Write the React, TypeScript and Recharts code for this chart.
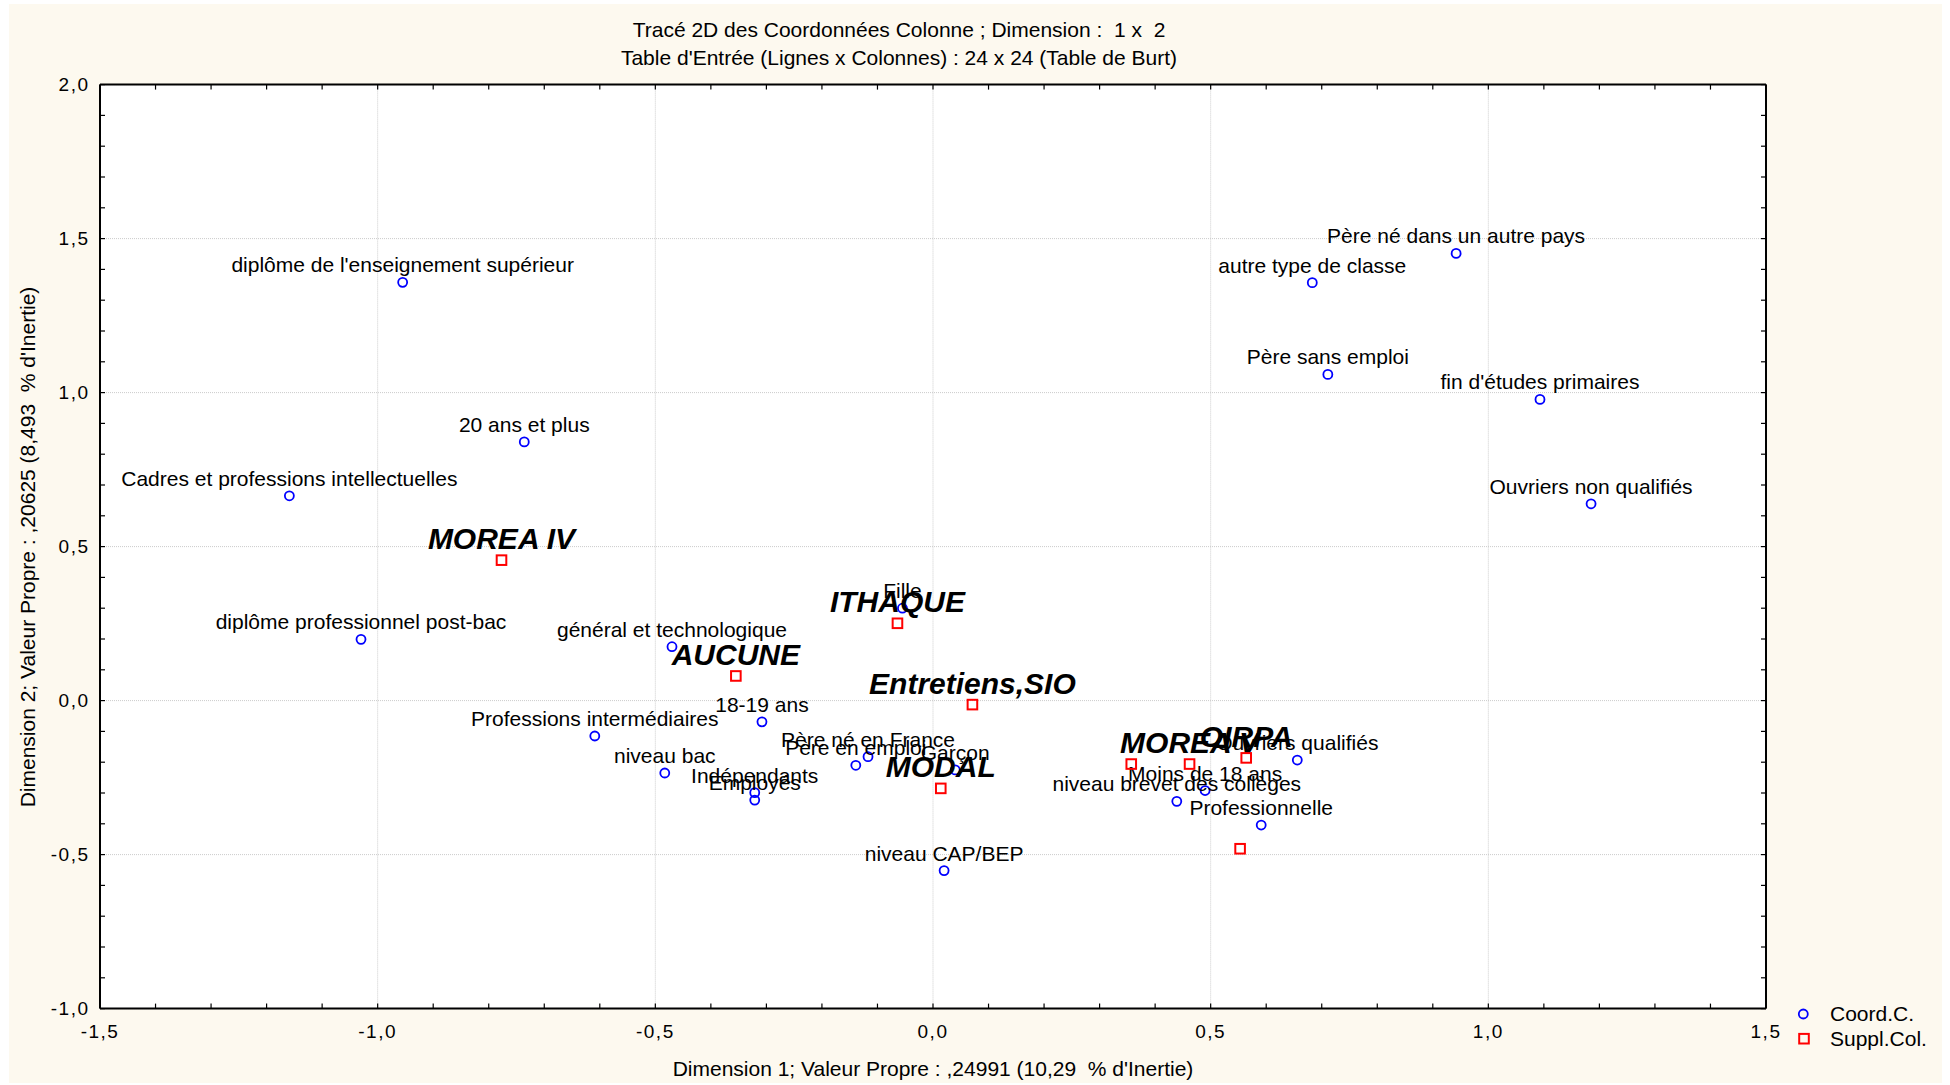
import { ScatterChart, Scatter, XAxis, YAxis, CartesianGrid } from "recharts";

// Coord.C. (colonnes actives)
const coordNames = [
  "diplôme de l'enseignement supérieur",
  "20 ans et plus",
  "Cadres et professions intellectuelles",
  "diplôme professionnel post-bac",
  "général et technologique",
  "18-19 ans",
  "Professions intermédiaires",
  "niveau bac",
  "Indépendants",
  "Employés",
  "Père né en France",
  "Père en emploi",
  "Garçon",
  "Fille",
  "niveau CAP/BEP",
  "Moins de 18 ans",
  "niveau brevet des collèges",
  "Ouvriers qualifiés",
  "Professionnelle",
  "Père né dans un autre pays",
  "autre type de classe",
  "Père sans emploi",
  "fin d'études primaires",
  "Ouvriers non qualifiés",
];
const coordX = [
  -0.955, -0.736, -1.159, -1.03, -0.47, -0.308, -0.609, -0.483, -0.321, -0.321,
  -0.117, -0.139, 0.04, -0.055, 0.02, 0.49, 0.439, 0.656, 0.591, 0.942, 0.683,
  0.711, 1.093, 1.185,
];
const coordY = [
  1.358, 0.84, 0.665, 0.199, 0.175, -0.069, -0.115, -0.235, -0.299, -0.323,
  -0.182, -0.21, -0.225, 0.3, -0.552, -0.292, -0.327, -0.193, -0.404, 1.452,
  1.357, 1.059, 0.978, 0.639,
];

// Suppl.Col. (colonnes supplémentaires)
const supplNames = [
  "MOREA IV",
  "ITHAQUE",
  "AUCUNE",
  "Entretiens,SIO",
  "MODAL",
  "",
  "MOREA V",
  "OIRPA",
  "",
];
const supplX = [-0.777, -0.064, -0.355, 0.071, 0.014, 0.357, 0.462, 0.564, 0.553];
const supplY = [0.456, 0.251, 0.08, -0.013, -0.285, -0.206, -0.206, -0.186, -0.481];

const xMajorTicks = [-1.5, -1.0, -0.5, 0, 0.5, 1.0, 1.5];
const yMajorTicks = [-1.0, -0.5, 0, 0.5, 1.0, 1.5, 2.0];
const xMinorTicks = [
  -1.5, -1.4, -1.3, -1.2, -1.1, -1.0, -0.9, -0.8, -0.7, -0.6, -0.5, -0.4, -0.3,
  -0.2, -0.1, 0, 0.1, 0.2, 0.3, 0.4, 0.5, 0.6, 0.7, 0.8, 0.9, 1.0, 1.1, 1.2, 1.3,
  1.4, 1.5,
];
const yMinorTicks = [
  -1.0, -0.9, -0.8, -0.7, -0.6, -0.5, -0.4, -0.3, -0.2, -0.1, 0, 0.1, 0.2, 0.3,
  0.4, 0.5, 0.6, 0.7, 0.8, 0.9, 1.0, 1.1, 1.2, 1.3, 1.4, 1.5, 1.6, 1.7, 1.8, 1.9,
  2.0,
];

const coordData = coordNames.map((name, i) => ({ name, x: coordX[i], y: coordY[i] }));
const supplData = supplNames.map((name, i) => ({ name, x: supplX[i], y: supplY[i] }));

const FONT = "'Liberation Sans', Arial, sans-serif";
const CREAM = "#fdf9ef";

const isMajor = (v: number) => Math.abs(v * 2 - Math.round(v * 2)) < 1e-6;
const fmtTick = (v: number) => (isMajor(v) ? v.toFixed(1).replace(".", ",") : "");
const blank = () => "";

function CoordMark(props: any) {
  const { cx, cy, payload } = props;
  return (
    <g>
      <circle cx={cx} cy={cy} r={4.5} fill="none" stroke="#0000ff" strokeWidth={1.8} />
      <text x={cx} y={cy - 10} textAnchor="middle" fontSize={21} fill="#000" fontFamily={FONT}>
        {payload.name}
      </text>
    </g>
  );
}

function SupplMark(props: any) {
  const { cx, cy, payload } = props;
  return (
    <g>
      <rect x={cx - 4.8} y={cy - 4.8} width={9.6} height={9.6} fill="none" stroke="#ff0000" strokeWidth={2} />
      {payload.name && (
        <text
          x={cx}
          y={cy - 11}
          textAnchor="middle"
          fontSize={30}
          fontWeight="bold"
          fontStyle="italic"
          fill="#000"
          fontFamily={FONT}
        >
          {payload.name}
        </text>
      )}
    </g>
  );
}

// x tick labels drawn by hand so they sit under the inward ticks
function XTick(props: any) {
  const { x, y, payload } = props;
  const label = fmtTick(payload.value);
  if (!label) return <g />;
  return (
    <text x={x} y={y} dy="0.71em" textAnchor="middle" fontSize={19} letterSpacing={1.5} fill="#000" fontFamily={FONT}>
      {label}
    </text>
  );
}

const tickStyle = { fontSize: 19, fill: "#000", letterSpacing: 1.5, fontFamily: FONT };
const border = { stroke: "#000", strokeWidth: 2 };
const tickLn = { stroke: "#000", strokeWidth: 1.2 };

export default function App() {
  return (
    <div
      style={{
        position: "absolute",
        left: 9,
        top: 4,
        width: 1933,
        height: 1079,
        background: CREAM,
        fontFamily: FONT,
        color: "#000",
      }}
    >
      <ScatterChart width={1933} height={1079} margin={{ top: 0, right: 0, bottom: 0, left: 0 }}>
        <XAxis xAxisId="x" dataKey="x" type="number" domain={[-1.5, 1.5]} ticks={xMajorTicks} allowDataOverflow hide height={0} />
        <YAxis yAxisId="y" dataKey="y" type="number" domain={[-1, 2]} ticks={yMajorTicks} allowDataOverflow hide width={0} />
        <XAxis
          xAxisId="xb"
          dataKey="x"
          orientation="bottom"
          type="number"
          domain={[-1.5, 1.5]}
          ticks={xMinorTicks}
          interval={0}
          allowDataOverflow
          height={74.4}
          tickSize={-5}
          tickMargin={21.4}
          tick={XTick}
          axisLine={border}
          tickLine={tickLn}
        />
        <XAxis
          xAxisId="xt"
          dataKey="x"
          orientation="top"
          type="number"
          domain={[-1.5, 1.5]}
          ticks={xMinorTicks}
          interval={0}
          allowDataOverflow
          height={80.6}
          tickSize={-5}
          tickFormatter={blank}
          axisLine={border}
          tickLine={tickLn}
        />
        <YAxis
          yAxisId="yl"
          dataKey="y"
          orientation="left"
          type="number"
          domain={[-1, 2]}
          ticks={yMinorTicks}
          interval={0}
          allowDataOverflow
          width={91}
          tickSize={-5}
          tickMargin={15.5}
          tickFormatter={fmtTick}
          tick={tickStyle}
          axisLine={border}
          tickLine={tickLn}
        />
        <YAxis
          yAxisId="yr"
          dataKey="y"
          orientation="right"
          type="number"
          domain={[-1, 2]}
          ticks={yMinorTicks}
          interval={0}
          allowDataOverflow
          width={176}
          tickSize={-5}
          tickFormatter={blank}
          axisLine={border}
          tickLine={tickLn}
        />
        <CartesianGrid xAxisId="x" yAxisId="y" stroke="#cccccc" strokeDasharray="1 1" fill="#ffffff" />
        <Scatter
          name="Coord.C."
          data={coordData}
          xAxisId="x"
          yAxisId="y"
          shape={CoordMark}
          isAnimationActive={false}
        />
        <Scatter
          name="Suppl.Col."
          data={supplData}
          xAxisId="x"
          yAxisId="y"
          shape={SupplMark}
          isAnimationActive={false}
        />
      </ScatterChart>

      <div style={{ position: "absolute", left: 890, top: 24.6, transform: "translate(-50%,-50%)", fontSize: 21, lineHeight: 1, whiteSpace: "pre" }}>
        {"Tracé 2D des Coordonnées Colonne ; Dimension :  1 x  2"}
      </div>
      <div style={{ position: "absolute", left: 890, top: 53.2, transform: "translate(-50%,-50%)", fontSize: 21, lineHeight: 1, whiteSpace: "pre" }}>
        {"Table d'Entrée (Lignes x Colonnes) : 24 x 24 (Table de Burt)"}
      </div>
      <div style={{ position: "absolute", left: 924, top: 1064, transform: "translate(-50%,-50%)", fontSize: 21, lineHeight: 1, whiteSpace: "pre" }}>
        {"Dimension 1; Valeur Propre : ,24991 (10,29  % d'Inertie)"}
      </div>
      <div
        style={{
          position: "absolute",
          left: 18,
          top: 543,
          transform: "translate(-50%,-50%) rotate(-90deg)",
          fontSize: 21,
          lineHeight: 1,
          whiteSpace: "pre",
        }}
      >
        {"Dimension 2; Valeur Propre : ,20625 (8,493  % d'Inertie)"}
      </div>

      <svg style={{ position: "absolute", left: 1780, top: 996 }} width={150} height={55}>
        <circle cx={14.3} cy={14} r={4.5} fill="none" stroke="#0000ff" strokeWidth={1.8} />
        <text x={41} y={14} dy="0.35em" fontSize={21} fontFamily={FONT} fill="#000">
          Coord.C.
        </text>
        <rect x={15 - 4.8} y={38.7 - 4.8} width={9.6} height={9.6} fill="none" stroke="#ff0000" strokeWidth={2} />
        <text x={41} y={38.5} dy="0.35em" fontSize={21} fontFamily={FONT} fill="#000">
          Suppl.Col.
        </text>
      </svg>
    </div>
  );
}
